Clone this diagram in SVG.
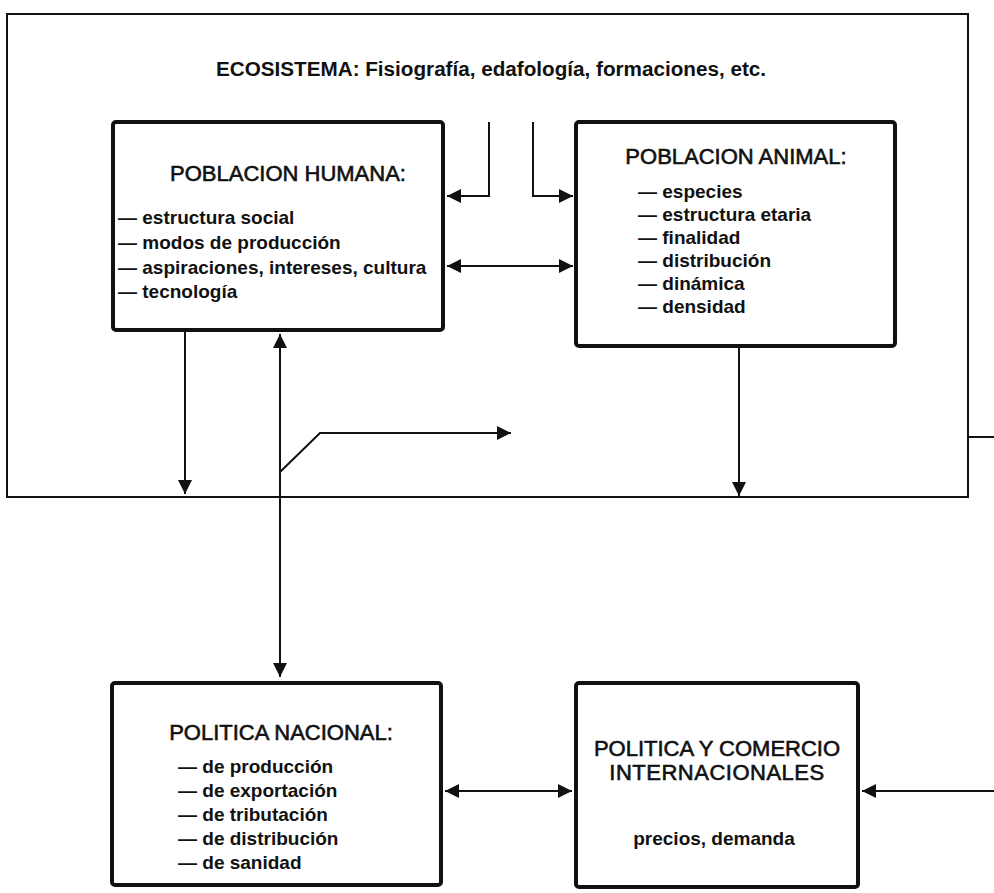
<svg xmlns="http://www.w3.org/2000/svg" width="994" height="893" viewBox="0 0 994 893">
<style>
.box{fill:none;stroke:#111;stroke-width:4}
.outer{fill:none;stroke:#111;stroke-width:2}
.c{fill:none;stroke:#111;stroke-width:2}
.t{font-family:"Liberation Sans",Arial,sans-serif;fill:#111}
.title{font-size:22px;stroke:#111;stroke-width:0.6}
.item{font-size:19px;font-weight:bold}
</style>
<defs>
<marker id="ah" viewBox="0 0 14 14" refX="14" refY="7" markerWidth="14" markerHeight="14" markerUnits="userSpaceOnUse" orient="auto-start-reverse">
<path d="M0,0 L14,7 L0,14 z" fill="#111"/>
</marker>
</defs>
<rect width="994" height="893" fill="#fff"/>
<g id="ecosistema">
<rect class="outer" x="7" y="14" width="961" height="483"/>
<text class="t" x="216" y="76" font-size="20" font-weight="bold" textLength="550" lengthAdjust="spacingAndGlyphs">ECOSISTEMA:  Fisiografía, edafología, formaciones, etc.</text>
</g>
<g id="poblacion-humana">
<rect class="box" x="113" y="122" width="330" height="208" rx="3"/>
<text class="t title" x="288" y="181" text-anchor="middle">POBLACION HUMANA:</text>
<text class="t item" x="118" y="224" font-size="19.8">— estructura social</text>
<text class="t item" x="118" y="249" font-size="19.8">— modos de producción</text>
<text class="t item" x="118" y="274" font-size="19.8">— aspiraciones, intereses, cultura</text>
<text class="t item" x="118" y="298" font-size="19.8">— tecnología</text>
</g>
<g id="poblacion-animal">
<rect class="box" x="576" y="122" width="319" height="224" rx="3"/>
<text class="t title" x="736" y="164" text-anchor="middle">POBLACION ANIMAL:</text>
<text class="t item" x="638" y="198">— especies</text>
<text class="t item" x="638" y="221">— estructura etaria</text>
<text class="t item" x="638" y="244">— finalidad</text>
<text class="t item" x="638" y="267">— distribución</text>
<text class="t item" x="638" y="290">— dinámica</text>
<text class="t item" x="638" y="313">— densidad</text>
</g>
<g id="politica-nacional">
<rect class="box" x="112" y="683" width="329" height="202" rx="3"/>
<text class="t title" x="281" y="740" text-anchor="middle">POLITICA NACIONAL:</text>
<text class="t item" x="178" y="773">— de producción</text>
<text class="t item" x="178" y="797">— de exportación</text>
<text class="t item" x="178" y="821">— de tributación</text>
<text class="t item" x="178" y="845">— de distribución</text>
<text class="t item" x="178" y="869">— de sanidad</text>
</g>
<g id="politica-comercio">
<rect class="box" x="576" y="683" width="282" height="204" rx="3"/>
<text class="t title" x="717" y="756" text-anchor="middle" font-size="19.5">POLITICA Y COMERCIO</text>
<text class="t title" x="717" y="780" text-anchor="middle" font-size="19.5" letter-spacing="0.5">INTERNACIONALES</text>
<text class="t item" x="714" y="845" text-anchor="middle" font-size="18">precios, demanda</text>
</g>
<g id="connectors">
<path class="c" d="M489,122 V196 H447" marker-end="url(#ah)"/>
<path class="c" d="M533,122 V196 H573" marker-end="url(#ah)"/>
<path class="c" d="M447,266 H573" marker-start="url(#ah)" marker-end="url(#ah)"/>
<path class="c" d="M185,330 V494" marker-end="url(#ah)"/>
<path class="c" d="M280,334 V677" marker-start="url(#ah)" marker-end="url(#ah)"/>
<path class="c" d="M280,472 L320,433 H511" marker-end="url(#ah)"/>
<path class="c" d="M739,346 V496" marker-end="url(#ah)"/>
<path class="c" d="M968,437 H994"/>
<path class="c" d="M445,791 H572" marker-start="url(#ah)" marker-end="url(#ah)"/>
<path class="c" d="M994,791 H862" marker-end="url(#ah)"/>
</g>
</svg>
